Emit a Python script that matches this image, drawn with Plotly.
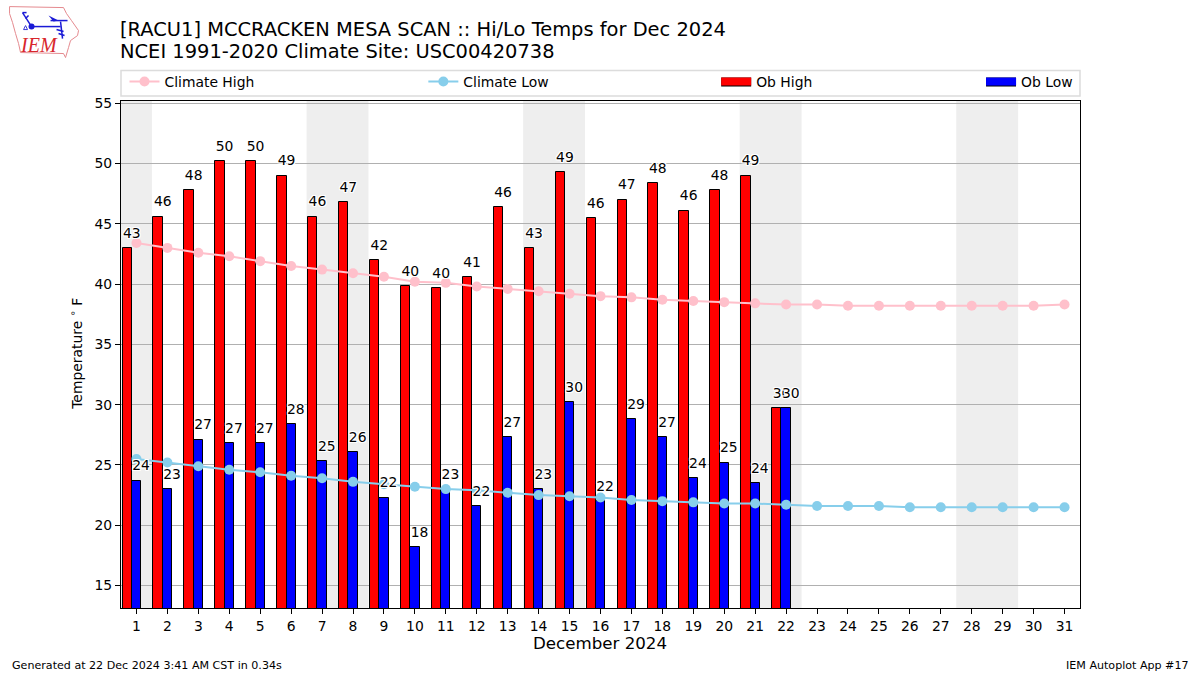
import plotly.graph_objects as go

days = list(range(1, 32))
ob_days = days[:22]
ob_high = [43, 45.6, 47.8, 50.2, 50.2, 49, 45.6, 46.8, 42, 39.8, 39.7, 40.6, 46.4, 43, 49.3, 45.5, 47, 48.4, 46.1, 47.8, 49, 29.7]
ob_low = [23.7, 23, 27.1, 26.8, 26.8, 28.4, 25.3, 26.1, 22.3, 18.2, 23, 21.6, 27.3, 23, 30.2, 22, 28.8, 27.3, 23.9, 25.2, 23.5, 29.7]
high_labels = [43, 46, 48, 50, 50, 49, 46, 47, 42, 40, 40, 41, 46, 43, 49, 46, 47, 48, 46, 48, 49, 30]
low_labels = [24, 23, 27, 27, 27, 28, 25, 26, 22, 18, 23, 22, 27, 23, 30, 22, 29, 27, 24, 25, 24, 30]
climate_high = [43.4, 43, 42.6, 42.3, 41.9, 41.5, 41.2, 40.9, 40.6, 40.2, 40.1, 39.8, 39.6, 39.4, 39.2, 39, 38.9, 38.7, 38.6, 38.5, 38.4, 38.3, 38.3, 38.2, 38.2, 38.2, 38.2, 38.2, 38.2, 38.2, 38.3]
climate_low = [25.5, 25.2, 24.9, 24.6, 24.4, 24.1, 23.9, 23.6, 23.4, 23.2, 23, 22.9, 22.7, 22.5, 22.4, 22.3, 22.1, 22, 21.9, 21.8, 21.8, 21.7, 21.6, 21.6, 21.6, 21.5, 21.5, 21.5, 21.5, 21.5, 21.5]
weekend_spans = [(0.5, 1.5), (6.5, 8.5), (13.5, 15.5), (20.5, 22.5), (27.5, 29.5)]
y_ticks = [15, 20, 25, 30, 35, 40, 45, 50, 55]

FONT = "DejaVu Sans"
L, R, T, B = 120.5, 1080, 100.5, 608
W, H = R - L, B - T
def px(x): return (x - L) / W
def py(y): return (B - y) / H

fig = go.Figure()
BAR_W = 0.3
LABEL_DY = 1.13
fig.add_bar(x=[d - BAR_W for d in ob_days], y=ob_high, width=BAR_W, name="Ob High", showlegend=False,
            marker=dict(color="#ff0000", line=dict(color="black", width=1)))
fig.add_bar(x=ob_days, y=ob_low, width=BAR_W, name="Ob Low", showlegend=False,
            marker=dict(color="#0000ff", line=dict(color="black", width=1)))
fig.add_scatter(x=days, y=climate_high, mode="lines+markers", name="Climate High", legend="legend",
                line=dict(color="#ffc0cb", width=2), marker=dict(color="#ffc0cb", size=10))
fig.add_scatter(x=days, y=climate_low, mode="lines+markers", name="Climate Low", legend="legend2",
                line=dict(color="#87ceeb", width=2), marker=dict(color="#87ceeb", size=10))
# wide flat legend keys for the bars
fig.add_scatter(x=[None], y=[None], mode="lines", name="Ob High", legend="legend3", line=dict(color="#ff0000", width=8))
fig.add_scatter(x=[None], y=[None], mode="lines", name="Ob Low", legend="legend4", line=dict(color="#0000ff", width=8))
halo = ("1px 0 0 white, -1px 0 0 white, 0 1px 0 white, 0 -1px 0 white, "
        "1px 1px 0 white, -1px 1px 0 white, 1px -1px 0 white, -1px -1px 0 white")
fig.add_scatter(x=[d - BAR_W / 2 for d in ob_days], y=[v + LABEL_DY for v in ob_high], mode="text",
                text=[str(v) for v in high_labels], textposition="middle center", showlegend=False, hoverinfo="skip",
                textfont=dict(family=FONT, size=13.9, color="black", shadow=halo))
fig.add_scatter(x=[d + BAR_W / 2 for d in ob_days], y=[v + LABEL_DY for v in ob_low], mode="text",
                text=[str(v) for v in low_labels], textposition="middle center", showlegend=False, hoverinfo="skip",
                textfont=dict(family=FONT, size=13.9, color="black", shadow=halo))

shapes = [dict(type="rect", xref="x", yref="paper", x0=a, x1=b, y0=0, y1=1, fillcolor="#eeeeee",
               line_width=0, layer="below") for a, b in weekend_spans]
# legend frame
shapes.append(dict(type="rect", xref="paper", yref="paper", x0=px(120.5), x1=px(1080), y0=py(95.5), y1=py(70),
                   line=dict(color="#dcdcdc", width=1.5), fillcolor="white", layer="above"))
LEG_Y = 81.5
X3, X4 = 716, 981
for lx in (X3, X4):
    shapes.append(dict(type="rect", xref="paper", yref="paper", x0=px(lx + 5), x1=px(lx + 35), y0=py(LEG_Y + 4.5), y1=py(LEG_Y - 4.5),
                       fillcolor="black", line_width=0, layer="above"))
# logo: state outline and station-model glyph
outline = [(9, 6), (63, 7), (66, 13), (71, 20), (78, 30), (77, 35), (70, 40), (68, 47), (65, 57), (63, 53), (20, 52), (18, 43), (15, 33), (12, 22), (9, 13)]
path = "M" + "L".join(f"{px(x):.5f},{py(y):.5f}" for x, y in outline) + "Z"
shapes.append(dict(type="path", xref="paper", yref="paper", path=path, line=dict(color="#e58a8f", width=1)))
glyph = [[(31, 26), (60, 26)], [(31, 26), (22, 12)], [(22, 12), (26, 12)], [(25, 18), (28, 15)], [(50, 20), (67, 20)], [(60, 21), (62, 38)], [(56, 29), (63, 31)], [(58, 33), (64, 35)]]
for seg in glyph:
    shapes.append(dict(type="line", xref="paper", yref="paper", x0=px(seg[0][0]), y0=py(seg[0][1]),
                       x1=px(seg[1][0]), y1=py(seg[1][1]), line=dict(color="#1a1ad6", width=1.5)))
shapes.append(dict(type="circle", xref="paper", yref="paper", x0=px(28), x1=px(34), y0=py(29), y1=py(23), fillcolor="#1a1ad6", line_width=0))
shapes.append(dict(type="path", xref="paper", yref="paper", fillcolor="#1a1ad6", line_width=0,
                   path=f"M{px(48):.5f},{py(15):.5f}L{px(58):.5f},{py(20):.5f}L{px(53):.5f},{py(21):.5f}Z"))
shapes.append(dict(type="path", xref="paper", yref="paper", line=dict(color="#3a3ad6", width=1),
                   path=f"M{px(23):.5f},{py(29):.5f}L{px(27):.5f},{py(29):.5f}L{px(25):.5f},{py(25):.5f}Z"))

def note(text, x, y, size, xanchor="left", **kw):
    pad = {"left": -3, "right": 3, "center": 0}[xanchor]
    return dict(text=text, xref="paper", yref="paper", x=px(x + pad), y=py(y), showarrow=False, xanchor=xanchor,
                yanchor="middle", align="left", font=dict(family=kw.pop("family", FONT), size=size, color=kw.pop("color", "black")), **kw)

annotations = [
    note("[RACU1] MCCRACKEN MESA SCAN :: Hi/Lo Temps for Dec 2024", 120, 29, 19.45),
    note("NCEI 1991-2020 Climate Site: USC00420738", 120, 51, 19.45),
    note("December 2024", 600, 644, 16.67, xanchor="center"),
    note("Temperature <sup>∘</sup> F", 76, 354, 13.9, xanchor="center", textangle=-90),
    note("Generated at 22 Dec 2024 3:41 AM CST in 0.34s", 12, 666, 11.1),
    note("IEM Autoplot App #17", 1188, 666, 11.1, xanchor="right"),
    note("<i>IEM</i>", 38, 44, 20, xanchor="center", family="Liberation Serif", color="#d8262c"),
]

def legend_at(x):
    return dict(x=px(x), y=py(LEG_Y), xanchor="left", yanchor="middle", bgcolor="rgba(0,0,0,0)", borderwidth=0,
                font=dict(family=FONT, size=13.9, color="black"), itemclick=False, itemdoubleclick=False)

fig.update_layout(
    width=1200, height=675, autosize=False,
    margin=dict(l=L, r=1200 - R, t=T, b=675 - B, pad=0),
    paper_bgcolor="white", plot_bgcolor="white",
    barmode="overlay", bargap=0,
    font=dict(family=FONT, size=13.9, color="black"),
    shapes=shapes, annotations=annotations,
    legend=legend_at(124), legend2=legend_at(423), legend3=legend_at(X3), legend4=legend_at(X4),
    xaxis=dict(range=[0.5, 31.5], tickmode="array", tickvals=days, ticktext=[str(d) for d in days], ticks="outside",
               ticklen=5, tickwidth=1, tickcolor="black", showgrid=False, showline=True, linecolor="black",
               linewidth=1, mirror=True, zeroline=False, tickangle=0, tickfont=dict(family=FONT, size=13.9)),
    yaxis=dict(range=[13.14, 55.18], tickmode="array", tickvals=y_ticks, ticktext=[str(v) for v in y_ticks], ticks="outside",
               ticklen=5, tickwidth=1, tickcolor="black", showgrid=True, gridcolor="#b0b0b0", gridwidth=1, showline=True,
               linecolor="black", linewidth=1, mirror=True, zeroline=False, tickfont=dict(family=FONT, size=13.9)),
)
fig.write_html("out.html", config={"displayModeBar": False},
               post_script="document.body.style.margin='0';document.documentElement.style.overflow='hidden';")
